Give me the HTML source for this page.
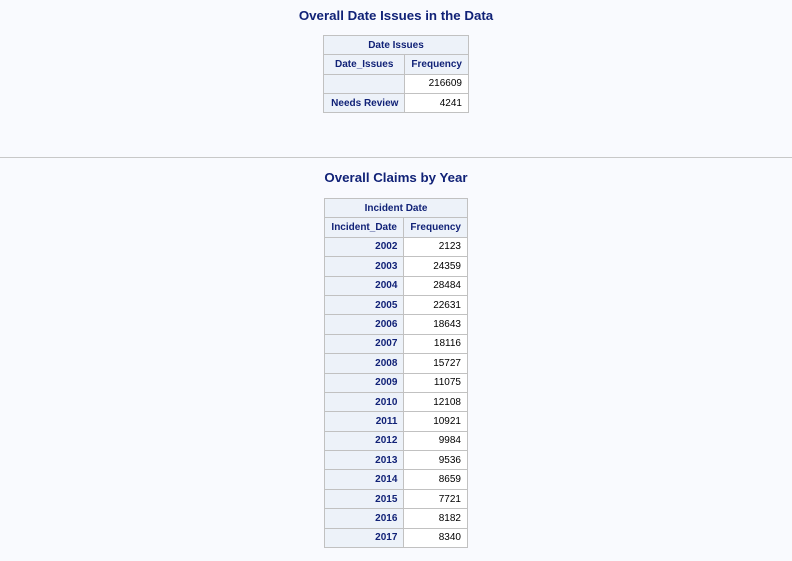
<!DOCTYPE html>
<html><head><meta charset="utf-8"><style>
html,body{margin:0;padding:0;width:792px;height:561px;background:#f9fafe;overflow:hidden;font-family:"Liberation Sans",Arial,sans-serif;}
.title{position:absolute;left:0;width:792px;text-align:center;font-weight:bold;font-size:13.3px;color:#112277;}
table{position:absolute;border-collapse:collapse;font-size:10px;}
td,th{border:1px solid #c1c1c1;padding:0 6px;height:18.4px;box-sizing:border-box;}
th{background:#edf2f9;color:#112277;font-weight:bold;}
td.rh{background:#edf2f9;color:#112277;font-weight:bold;text-align:right;}
td.v{background:#fff;color:#000;text-align:right;}
.rule{position:absolute;left:0;top:157px;width:792px;height:1px;background:#c8c8c8;}
</style></head><body>
<div class="title" style="top:8px">Overall Date Issues in the Data</div>
<table style="left:323px;top:35px;width:146px">
<tr style="height:19.3px"><th colspan="2">Date Issues</th></tr>
<tr style="height:19.3px"><th style="width:82px">Date_Issues</th><th>Frequency</th></tr>
<tr style="height:19.3px"><td class="rh"></td><td class="v">216609</td></tr>
<tr style="height:19.3px"><td class="rh">Needs Review</td><td class="v">4241</td></tr>
</table>
<div class="rule"></div>
<div class="title" style="top:170px">Overall Claims by Year</div>
<table id="t2" style="left:324px;top:198px;width:144px">
<tr style="height:19.4px"><th colspan="2">Incident Date</th></tr>
<tr style="height:19.4px"><th style="width:81px">Incident_Date</th><th>Frequency</th></tr>
</table>
<script>
const years=[2002,2003,2004,2005,2006,2007,2008,2009,2010,2011,2012,2013,2014,2015,2016,2017];
const freqs=[2123,24359,28484,22631,18643,18116,15727,11075,12108,10921,9984,9536,8659,7721,8182,8340];
const t=document.getElementById('t2');
years.forEach((y,i)=>{
  const tr=document.createElement('tr');tr.style.height='19.4px';
  
  
  const a=document.createElement('td');a.className='rh';a.textContent=y;
  
  
  const b=document.createElement('td');b.className='v';b.textContent=freqs[i];
  
  
  tr.appendChild(a);tr.appendChild(b);t.appendChild(tr);
});
</script>
</body></html>
